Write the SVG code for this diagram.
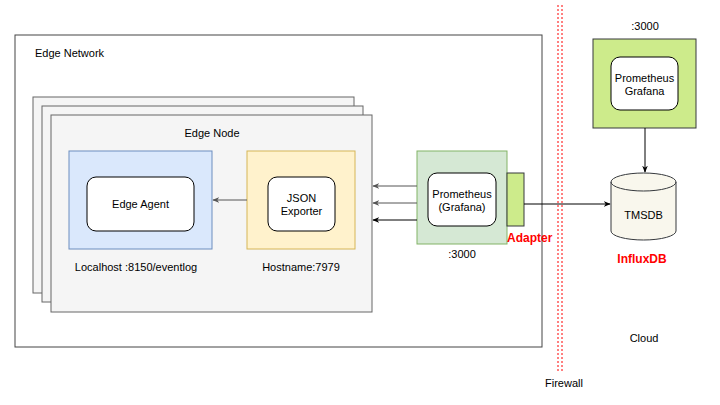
<svg xmlns="http://www.w3.org/2000/svg" width="720" height="405" viewBox="0 0 720 405">
<style>
text{font-family:"Liberation Sans",Arial,sans-serif;font-size:11px;fill:#000;}
.c{text-anchor:middle;}
.red{fill:#ff0000;font-weight:bold;font-size:12px;}
.stack{fill:#f5f5f5;stroke:#666;stroke-width:1;}
.inner{fill:#fff;stroke:#000;stroke-width:1;}
.conn{fill:none;stroke-width:1;}
</style>
<defs>
<marker id="ag" viewBox="0 0 10 10" refX="9" refY="5" markerWidth="7" markerHeight="7" orient="auto" markerUnits="userSpaceOnUse"><path d="M0,1 L10,5 L0,9 L3,5 Z" fill="#555"/></marker>
<marker id="ab" viewBox="0 0 10 10" refX="9" refY="5" markerWidth="7" markerHeight="7" orient="auto" markerUnits="userSpaceOnUse"><path d="M0,1 L10,5 L0,9 L3,5 Z" fill="#000"/></marker>
</defs>
<rect width="720" height="405" fill="#fff"/>
<g id="edge-network">
<rect x="15" y="35" width="527" height="312" fill="#fff" stroke="#444"/>
<text x="35" y="57">Edge Network</text>
</g>
<g id="firewall">
<line x1="558" y1="5" x2="558" y2="373" stroke="#ff0000" stroke-dasharray="2,2"/>
<line x1="562" y1="5" x2="562" y2="373" stroke="#ff0000" stroke-dasharray="2,2"/>
<text class="c" x="564" y="387">Firewall</text>
</g>
<g id="edge-node">
<rect class="stack" x="33" y="97" width="321" height="196"/>
<rect class="stack" x="42" y="106" width="321" height="196"/>
<rect class="stack" x="51" y="115" width="321" height="197"/>
<text class="c" x="212" y="137">Edge Node</text>
</g>
<g id="edge-agent">
<rect x="69" y="151" width="143" height="98" fill="#dae8fc" stroke="#6c8ebf"/>
<rect class="inner" x="87" y="177" width="107" height="54" rx="9"/>
<text class="c" x="140.5" y="208">Edge Agent</text>
<text class="c" x="136" y="271">Localhost :8150/eventlog</text>
</g>
<g id="json-exporter">
<rect x="247" y="151" width="108" height="98" fill="#fff2cc" stroke="#d6b656"/>
<rect class="inner" x="268" y="177" width="67" height="54" rx="9"/>
<text class="c" x="301.5" y="202">JSON</text>
<text class="c" x="301.5" y="215">Exporter</text>
<text class="c" x="301" y="271">Hostname:7979</text>
</g>
<g id="prometheus-edge">
<rect x="417" y="151" width="90" height="93" fill="#d5e8d4" stroke="#82b366"/>
<rect class="inner" x="428" y="173" width="68" height="53" rx="9"/>
<text class="c" x="462" y="198">Prometheus</text>
<text class="c" x="462" y="211">(Grafana)</text>
<text class="c" x="462" y="258">:3000</text>
</g>
<g id="adapter">
<rect x="507" y="173" width="17" height="53" fill="#cdeb8b" stroke="#36393d"/>
<text class="red" x="507" y="242">Adapter</text>
</g>
<g id="prometheus-cloud">
<text class="c" x="645" y="30">:3000</text>
<rect x="593" y="39" width="103" height="89" fill="#cdeb8b" stroke="#36393d"/>
<rect class="inner" x="611" y="57" width="67" height="53" rx="9"/>
<text class="c" x="644.5" y="82">Prometheus</text>
<text class="c" x="644.5" y="95">Grafana</text>
</g>
<g id="tmsdb">
<path d="M611,182 A32.5,9 0 0 1 676,182 L676,231 A32.5,9 0 0 1 611,231 Z" fill="#f9f7ed" stroke="#36393d"/>
<path d="M611,182 A32.5,9 0 0 0 676,182" fill="none" stroke="#36393d"/>
<text class="c" x="643.5" y="219">TMSDB</text>
<text class="red c" x="642" y="263">InfluxDB</text>
</g>
<g id="cloud">
<text class="c" x="644" y="342">Cloud</text>
</g>
<g id="connectors">
<line class="conn" x1="247" y1="200" x2="213" y2="200" stroke="#555" marker-end="url(#ag)"/>
<line class="conn" x1="417" y1="186" x2="373" y2="186" stroke="#555" marker-end="url(#ag)"/>
<line class="conn" x1="417" y1="203" x2="373" y2="203" stroke="#555" marker-end="url(#ag)"/>
<line class="conn" x1="417" y1="220" x2="373" y2="220" stroke="#000" marker-end="url(#ab)"/>
<line class="conn" x1="524" y1="204" x2="610" y2="204" stroke="#000" marker-end="url(#ab)"/>
<line class="conn" x1="645" y1="128" x2="645" y2="172" stroke="#000" marker-end="url(#ab)"/>
</g>
</svg>
